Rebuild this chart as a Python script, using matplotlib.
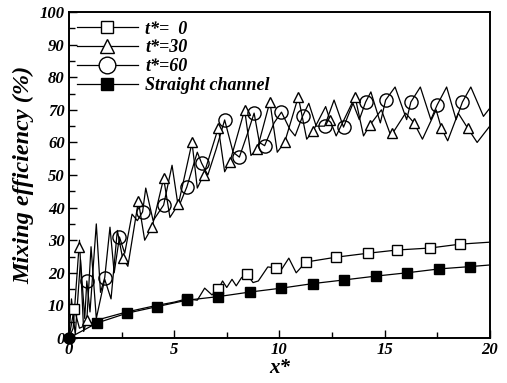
import matplotlib
matplotlib.use("Agg")
import matplotlib.pyplot as plt
from matplotlib.ticker import MultipleLocator
from matplotlib.lines import Line2D

plt.rcParams['font.family'] = ['Liberation Serif', 'DejaVu Serif']

# ---------------- data ----------------
# t* = 0 curve
t0_x = [0, 0.25, 0.5, 1.33, 2.75, 4.17, 5.0, 5.6, 6.1, 6.45, 6.8, 7.1, 7.3, 7.5, 7.75, 7.95,
        8.2, 8.45, 8.75, 9.0, 9.45, 9.83, 10.0, 10.45, 10.8, 11.26, 12.7, 14.2, 15.6, 17.15,
        18.6, 20.0]
t0_y = [0, 9, 3, 5.5, 8, 10, 11, 12, 11.6, 15.3, 13.2, 15, 17.5, 15.5, 18, 16,
        18.5, 19.6, 17, 17.5, 21.8, 21.5, 20, 24.5, 20, 23.3, 24.8, 26, 27, 27.6,
        28.8, 29.4]
t0_mx = [0.25, 5.6, 7.1, 8.45, 9.83, 11.26, 12.7, 14.2, 15.6, 17.15, 18.6]
t0_my = [9, 12, 15, 19.6, 21.5, 23.3, 24.8, 26, 27, 27.6, 28.8]

# t* = 30 curve
t30_x = [0, 0.2, 0.5, 0.7, 0.85, 1.05, 1.3, 1.7, 2.0, 2.3, 2.55, 2.8, 3.3, 3.6, 3.95, 4.5,
         4.8, 5.2, 5.85, 6.1, 6.4, 7.1, 7.4, 7.65, 8.35, 8.65, 8.95, 9.55, 9.9, 10.25, 10.9,
         11.3, 11.6, 12.2, 12.4, 12.7, 13.6, 14.0, 14.3, 14.85, 15.3, 16.0, 16.4, 16.8, 17.45,
         17.7, 18.0, 18.5, 18.95, 19.4, 20.0]
t30_y = [0, 3, 30, 2, 5.5, 28, 6, 18, 12, 33, 24.5, 22, 42, 30, 34, 49,
         37, 41, 60, 46, 50, 64.5, 51, 54, 70, 56, 58, 72.5, 57, 60, 74,
         61, 63.5, 71, 67, 62, 74, 62, 65.3, 70, 62, 69, 66, 61, 70,
         64.4, 60.5, 69, 64.4, 60, 65]
t30_mx = [0.5, 0.85, 2.55, 3.3, 3.95, 4.5, 5.2, 5.85, 6.4, 7.1, 7.65, 8.35, 8.95, 9.55,
          10.25, 10.9, 11.6, 12.4, 13.6, 14.3, 15.35, 16.4, 17.7, 18.95]
t30_my = [28, 5.5, 24.5, 42, 34, 49, 41, 60, 50, 64.5, 54, 70, 58, 72.5,
          60, 74, 63.5, 67, 74, 65.3, 63, 66, 64.4, 64.4]

# t* = 60 curve
t60_x = [0, 0.12, 0.3, 0.55, 0.75, 0.85, 1.0, 1.3, 1.5, 1.7, 1.95, 2.15, 2.4, 2.65, 3.0,
         3.25, 3.5, 3.65, 4.0, 4.5, 4.9, 5.2, 5.6, 6.1, 6.3, 6.6, 7.0, 7.4, 7.8, 8.1, 8.5,
         8.8, 9.05, 9.3, 9.75, 10.1, 10.5, 10.75, 11.1, 11.4, 11.75, 12.15, 12.6, 13.05,
         13.5, 13.8, 14.1, 14.35, 14.8, 15.05, 15.5, 16.05, 16.25, 16.7, 17.2, 17.5, 17.95,
         18.4, 18.7, 19.1, 19.7, 20.0]
t60_y = [0, 12, 1, 24, 6, 17.5, 8, 35, 14, 18.5, 34, 20, 31, 26, 38,
         36, 38.7, 46, 36, 40.8, 53, 40, 46.3, 57, 53.7, 50, 58, 66.9, 57, 55.5, 63,
         69, 60, 59, 66, 69.3, 64, 62, 68, 72, 65, 65, 73, 64.7,
         72, 67, 72.4, 75.5, 66, 73, 77, 67, 72.4, 77, 67, 71.5, 77,
         67, 72.4, 77, 68, 70.5]
t60_mx = [0.85, 1.7, 2.4, 3.5, 4.5, 5.6, 6.3, 7.4, 8.1, 8.8, 9.3, 10.1, 11.1, 12.15,
          13.05, 14.1, 15.05, 16.25, 17.5, 18.7]
t60_my = [17.5, 18.5, 31, 38.7, 40.8, 46.3, 53.7, 66.9, 55.5, 69, 59, 69.3, 68, 65,
          64.7, 72.4, 73, 72.4, 71.5, 72.4]

# Straight channel
sc_x = [0, 1.33, 2.75, 4.17, 5.6, 7.1, 8.6, 10.1, 11.6, 13.06, 14.6, 16.06, 17.6, 19.05, 20.0]
sc_y = [0, 4.6, 7.6, 9.6, 11.6, 12.7, 14.1, 15.3, 16.7, 17.8, 19.0, 20.0, 21.2, 21.9, 22.4]
sc_mx = [1.33, 2.75, 4.17, 5.6, 7.1, 8.6, 10.1, 11.6, 13.06, 14.6, 16.06, 17.6, 19.05]
sc_my = [4.6, 7.6, 9.6, 11.6, 12.7, 14.1, 15.3, 16.7, 17.8, 19.0, 20.0, 21.2, 21.9]

labels = ["t*=  0", "t*=30", "t*=60", "Straight channel"]
x_ticks = [0, 5, 10, 15, 20]
y_ticks = [0, 10, 20, 30, 40, 50, 60, 70, 80, 90, 100]

# ---------------- figure ----------------
fig = plt.figure(figsize=(5.07, 3.83), dpi=100)
ax = fig.add_axes([0.136, 0.1175, 0.830, 0.851])

lw = 0.9
ax.plot(t0_x, t0_y, color='black', lw=lw)
ax.plot(t30_x, t30_y, color='black', lw=lw)
ax.plot(t60_x, t60_y, color='black', lw=lw)
ax.plot(sc_x, sc_y, color='black', lw=lw)

ax.plot(t0_mx, t0_my, ls='none', marker='s', ms=6.5, mfc='white', mec='black', mew=1.0)
ax.plot(t30_mx, t30_my, ls='none', marker='^', ms=7.5, mfc='white', mec='black', mew=1.0)
ax.plot(t60_mx, t60_my, ls='none', marker='o', ms=9.5, mfc='none', mec='black', mew=1.0)
ax.plot(sc_mx, sc_my, ls='none', marker='s', ms=6.5, mfc='black', mec='black', mew=1.0)
ax.plot([0], [0], ls='none', marker='o', ms=8, mfc='black', mec='black', clip_on=False, zorder=5)

handles = [
    Line2D([], [], color='black', lw=lw, marker='s', ms=8.5, mfc='white', mec='black'),
    Line2D([], [], color='black', lw=lw, marker='^', ms=10, mfc='white', mec='black'),
    Line2D([], [], color='black', lw=lw, marker='o', ms=12, mfc='white', mec='black'),
    Line2D([], [], color='black', lw=lw, marker='s', ms=8.5, mfc='black', mec='black'),
]
leg = ax.legend(handles, labels, loc='upper left', frameon=False, handlelength=3.4,
                handletextpad=0.4, labelspacing=0.1, borderaxespad=0.0, borderpad=0.2,
                bbox_to_anchor=(0.01, 0.985),
                prop={'family': 'Liberation Serif', 'style': 'italic', 'weight': 'bold', 'size': 13})

ax.set_xlim(0, 20)
ax.set_ylim(0, 100)
ax.set_xticks(x_ticks)
ax.set_yticks(y_ticks)
ax.xaxis.set_minor_locator(MultipleLocator(2.5))
ax.yaxis.set_minor_locator(MultipleLocator(5))
ax.tick_params(which='major', direction='in', length=6, width=1, top=False, right=False)
ax.tick_params(which='minor', direction='in', length=4, width=1, top=False, right=False)
ax.tick_params(axis='x', pad=3)
ax.tick_params(axis='y', pad=3)
for lab in ax.get_xticklabels() + ax.get_yticklabels():
    lab.set_fontstyle('italic')
    lab.set_fontweight('bold')
    lab.set_fontsize(12)
for sp in ax.spines.values():
    sp.set_linewidth(1.4)

ax.set_xlabel('x*', fontsize=15, fontstyle='italic', fontweight='bold', labelpad=0)
ax.set_ylabel('Mixing efficiency (%)', fontsize=17.5, fontstyle='italic', fontweight='bold',
              labelpad=4)

fig.savefig('out.png', dpi=100)
